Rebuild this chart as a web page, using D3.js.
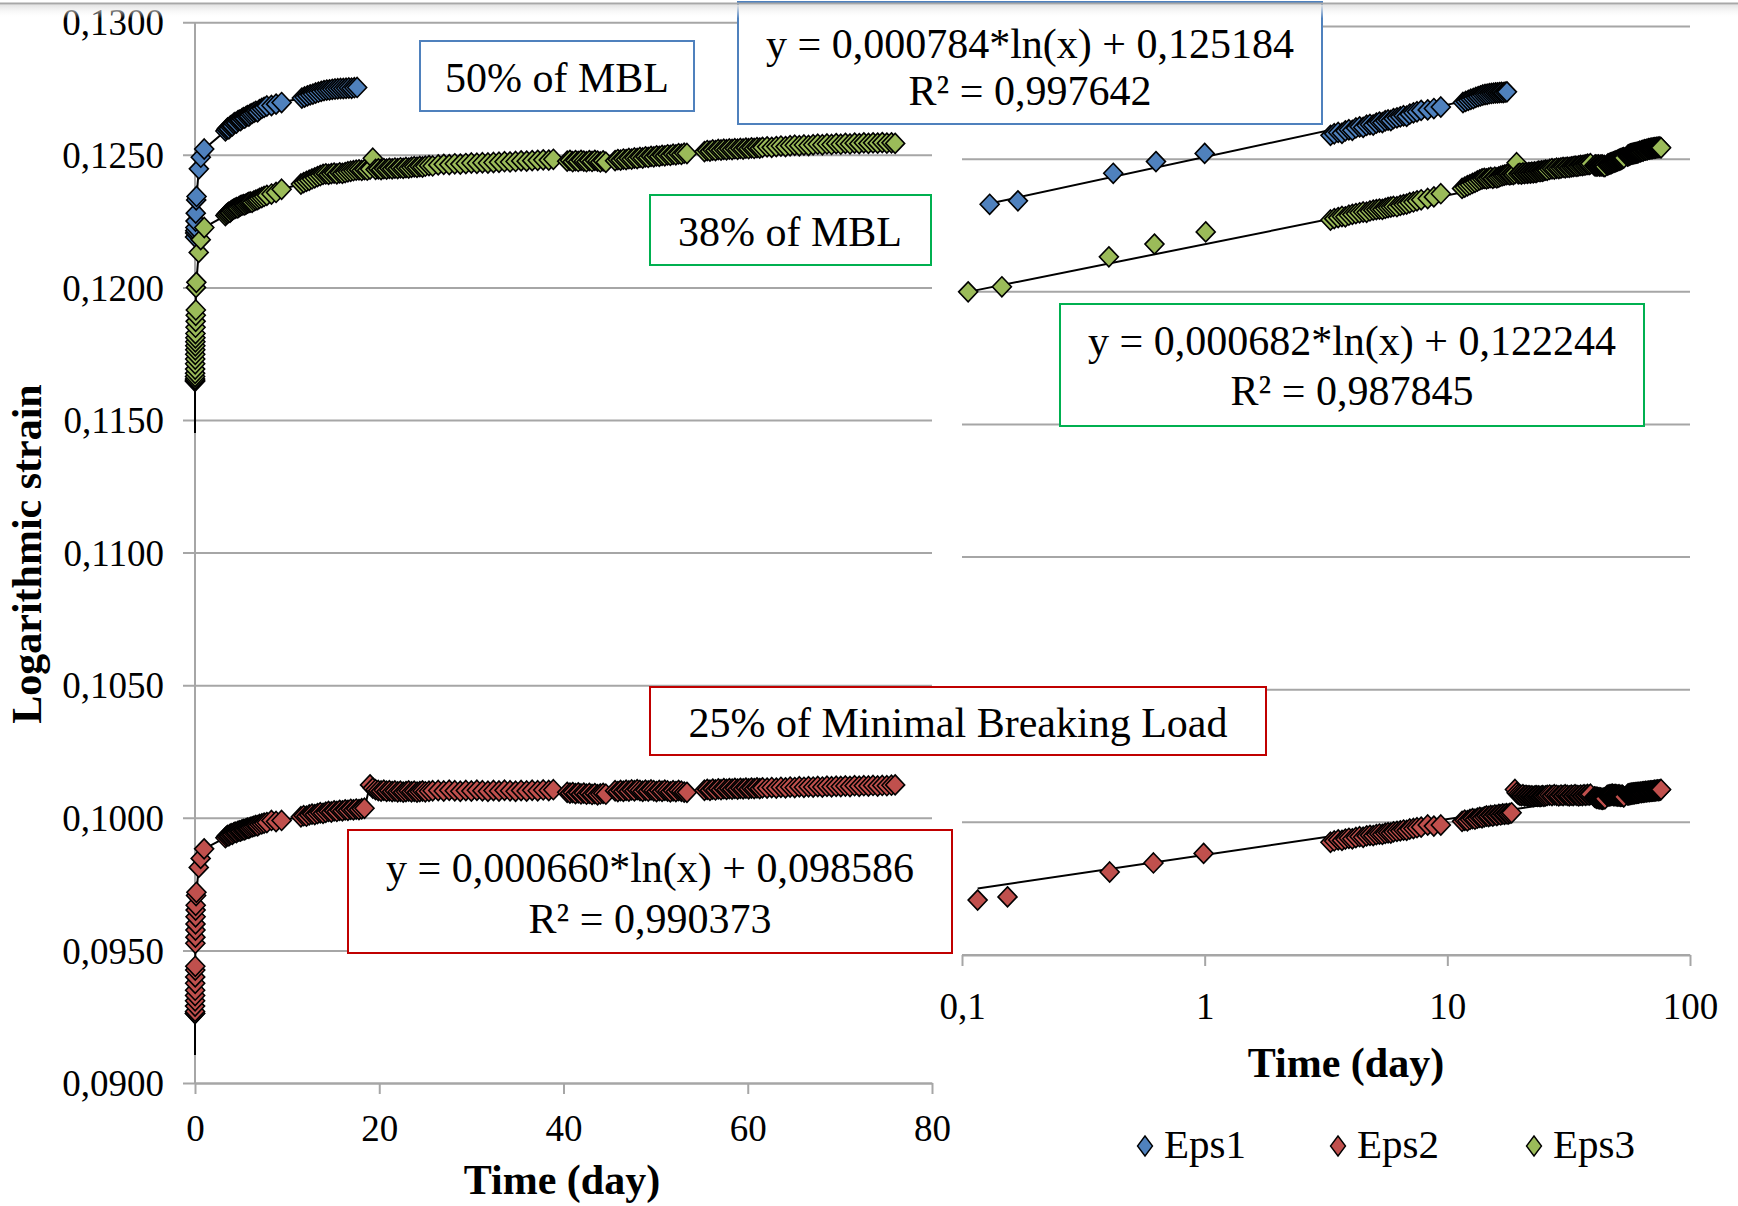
<!DOCTYPE html>
<html><head><meta charset="utf-8">
<script src="https://cdn.jsdelivr.net/npm/d3@7"></script>
<style>
body{margin:0;background:#fff}
svg text{font-family:"Liberation Serif","Times New Roman",serif;fill:#000}
</style>
</head><body>
<svg id="c" width="1738" height="1206"></svg>
<script>
// ---------------- DATA ----------------
const yTickValues = [0.090,0.095,0.100,0.105,0.110,0.115,0.120,0.125,0.130];
const xTicksLinear = [0,20,40,60,80];
const xTicksLog = [0.1,1,10,100];
const seriesNames = ["Eps1","Eps2","Eps3"];
const seriesColors = ["#4f81bd","#c0504d","#9bbb59"];
const boxLabels = ["50% of MBL","38% of MBL","25% of Minimal Breaking Load"];
const eqLabels = [
  ["y = 0,000784*ln(x) + 0,125184","R² = 0,997642"],
  ["y = 0,000682*ln(x) + 0,122244","R² = 0,987845"],
  ["y = 0,000660*ln(x) + 0,098586","R² = 0,990373"]
];
const yTitle = "Logarithmic strain";
const xTitle = "Time (day)";

// Eps1 : 50% of MBL  [time (day), strain]
const eps1 = [
[0.010,0.12190],[0.020,0.12205],[0.030,0.12214],[0.045,0.12226],[0.060,0.12250],[0.080,0.12280],
[0.13,0.12330],[0.17,0.12343],[0.42,0.12447],[0.63,0.12491],[1.00,0.12522],
[3.30,0.12590],[3.42,0.12596],[3.55,0.12601],[3.68,0.12598],[3.80,0.12607],[3.93,0.12611],[4.06,0.12609],[4.20,0.12618],[4.35,0.12622],[4.50,0.12620],[4.65,0.12628],[4.80,0.12631],[4.95,0.12629],[5.10,0.12636],[5.25,0.12640],[5.40,0.12638],[5.55,0.12645],[5.70,0.12648],[5.85,0.12646],[6.00,0.12653],[6.20,0.12656],[6.40,0.12660],[6.60,0.12664],[6.80,0.12662],[7.00,0.12670],[7.25,0.12675],[7.50,0.12679],[7.80,0.12684],[8.30,0.12686],[8.80,0.12691],[9.40,0.12697],
[11.6,0.12714],[11.9,0.12718],[12.2,0.12722],[12.5,0.12726],[12.8,0.12729],[13.1,0.12733],[13.4,0.12736],[13.7,0.12739],[14.0,0.12742],[14.3,0.12744],[14.6,0.12745],[14.9,0.12747],[15.2,0.12748],[15.5,0.12749],[15.8,0.12750],[16.1,0.12750],[16.4,0.12751],[16.7,0.12752],[17.0,0.12751],[17.3,0.12753],[17.6,0.12754]
];

// Eps2 : 25% of MBL
const eps2Start = 0.09106;
const eps2 = [
[0.002,0.09262],[0.004,0.09263],[0.006,0.09270],[0.008,0.09290],[0.010,0.09310],[0.013,0.09330],[0.016,0.09350],[0.020,0.09376],[0.024,0.09400],[0.028,0.09426],[0.032,0.09440],[0.040,0.09527],[0.045,0.09550],[0.050,0.09577],[0.056,0.09600],[0.062,0.09627],[0.068,0.09652],[0.075,0.09670],
[0.116,0.09707],[0.154,0.09719],[0.406,0.09813],[0.615,0.09847],[0.99,0.09883],
[3.30,0.09925],[3.42,0.09930],[3.55,0.09934],[3.68,0.09932],[3.80,0.09937],[3.93,0.09940],[4.06,0.09938],[4.20,0.09943],[4.35,0.09946],[4.50,0.09944],[4.65,0.09949],[4.80,0.09951],[4.95,0.09950],[5.10,0.09954],[5.25,0.09956],[5.40,0.09955],[5.55,0.09959],[5.70,0.09961],[5.85,0.09960],[6.00,0.09964],[6.20,0.09966],[6.40,0.09968],[6.60,0.09971],[6.80,0.09970],[7.00,0.09975],[7.25,0.09977],[7.50,0.09980],[7.80,0.09982],[8.30,0.09990],[8.80,0.09986],[9.40,0.09990],
[11.5,0.10004],[11.8,0.10008],[12.1,0.10006],[12.4,0.10011],[12.7,0.10014],[13.0,0.10012],[13.3,0.10016],[13.6,0.10019],[13.9,0.10017],[14.2,0.10021],[14.5,0.10024],[14.8,0.10022],[15.1,0.10026],[15.4,0.10024],[15.7,0.10028],[16.0,0.10026],[16.3,0.10030],[16.6,0.10028],[16.9,0.10032],[17.2,0.10030],[17.5,0.10033],[17.8,0.10031],[18.1,0.10034],[18.4,0.10036],
[19.0,0.10124],[19.3,0.10112],[19.6,0.10106],[19.9,0.10103],[20.2,0.10101],[20.5,0.10104],[20.8,0.10100],[21.1,0.10102],[21.4,0.10099],[21.7,0.10101],[22.0,0.10098],[22.3,0.10100],[22.6,0.10097],[22.9,0.10099],[23.2,0.10101],[23.5,0.10098],[23.8,0.10100],[24.1,0.10097],[24.4,0.10099],[24.7,0.10101],[25.0,0.10098],[25.4,0.10100],[25.8,0.10102],
[26.4,0.10103],[27.0,0.10101],[27.6,0.10104],[28.2,0.10102],[28.8,0.10100],[29.4,0.10103],[30.0,0.10101],[30.6,0.10104],[31.2,0.10102],[31.8,0.10100],[32.4,0.10103],[33.0,0.10101],[33.6,0.10104],[34.2,0.10102],[34.8,0.10100],[35.4,0.10103],[36.0,0.10101],[36.6,0.10104],[37.2,0.10102],[37.8,0.10105],[38.4,0.10103],[38.9,0.10106],
[40.4,0.10096],[40.7,0.10093],[41.0,0.10095],[41.3,0.10091],[41.6,0.10094],[41.9,0.10090],[42.2,0.10093],[42.5,0.10089],[42.8,0.10092],[43.1,0.10088],[43.4,0.10091],[43.7,0.10087],[44.0,0.10090],[44.3,0.10092],[44.6,0.10089],
[45.6,0.10102],[45.9,0.10099],[46.2,0.10103],[46.5,0.10100],[46.8,0.10104],[47.1,0.10101],[47.4,0.10105],[47.7,0.10102],[48.0,0.10106],[48.3,0.10103],[48.6,0.10100],[48.9,0.10104],[49.2,0.10101],[49.5,0.10105],[49.8,0.10102],[50.1,0.10099],[50.4,0.10103],[50.7,0.10100],[51.0,0.10104],[51.3,0.10101],[51.6,0.10098],[51.9,0.10102],[52.2,0.10099],[52.5,0.10103],[52.8,0.10100],[53.1,0.10097],[53.4,0.10096],
[55.3,0.10104],[55.6,0.10107],[55.9,0.10104],[56.2,0.10108],[56.5,0.10105],[56.8,0.10109],[57.1,0.10106],[57.4,0.10110],[57.7,0.10107],[58.0,0.10110],[58.3,0.10108],[58.6,0.10111],[58.9,0.10108],[59.2,0.10111],[59.5,0.10109],[59.8,0.10112],[60.1,0.10109],[60.4,0.10112],[60.7,0.10110],[61.0,0.10113],[61.3,0.10110],[61.6,0.10113],
[62.1,0.10112],[62.6,0.10114],[63.1,0.10112],[63.6,0.10115],[64.1,0.10113],[64.6,0.10116],[65.1,0.10114],[65.6,0.10117],[66.1,0.10115],[66.6,0.10117],[67.1,0.10116],[67.6,0.10118],[68.1,0.10116],[68.6,0.10119],[69.1,0.10117],[69.6,0.10119],[70.1,0.10118],[70.6,0.10120],[71.1,0.10118],[71.6,0.10121],[72.1,0.10119],[72.6,0.10121],[73.1,0.10120],[73.6,0.10122],[74.1,0.10120],[74.6,0.10122],[75.1,0.10121],[75.6,0.10123],[76.0,0.10124]
];

// Eps3 : 38% of MBL
const eps3Start = 0.11451;
const eps3 = [
[0.002,0.11646],[0.004,0.11650],[0.006,0.11655],[0.008,0.11664],[0.010,0.11676],[0.014,0.11692],[0.018,0.11712],[0.022,0.11730],[0.026,0.11748],[0.030,0.11765],[0.035,0.11780],[0.040,0.11795],[0.045,0.11810],[0.050,0.11826],[0.060,0.11850],[0.070,0.11872],[0.080,0.11895],[0.090,0.11915],
[0.106,0.12000],[0.146,0.12019],[0.403,0.12132],[0.621,0.12180],[1.01,0.12226],
[3.30,0.12271],[3.42,0.12276],[3.55,0.12280],[3.68,0.12284],[3.80,0.12283],[3.93,0.12289],[4.06,0.12292],[4.20,0.12295],[4.35,0.12298],[4.50,0.12301],[4.65,0.12300],[4.80,0.12305],[4.95,0.12308],[5.10,0.12310],[5.25,0.12312],[5.40,0.12311],[5.55,0.12315],[5.70,0.12318],[5.85,0.12320],[6.00,0.12322],[6.20,0.12321],[6.40,0.12326],[6.60,0.12329],[6.80,0.12331],[7.00,0.12336],[7.25,0.12339],[7.50,0.12343],[7.80,0.12347],[8.30,0.12352],[8.80,0.12358],[9.40,0.12370],
[11.5,0.12390],[11.8,0.12395],[12.1,0.12400],[12.4,0.12404],[12.7,0.12409],[13.0,0.12413],[13.3,0.12418],[13.6,0.12422],[13.9,0.12426],[14.2,0.12428],[14.5,0.12426],[14.8,0.12429],[15.1,0.12431],[15.4,0.12428],[15.7,0.12432],[16.0,0.12430],[16.3,0.12433],[16.6,0.12436],[16.9,0.12438],[17.2,0.12440],[17.5,0.12442],
[17.8,0.12443],[18.1,0.12441],[18.4,0.12444],[18.7,0.12442],[19.0,0.12446],[19.3,0.12487],[19.6,0.12445],[19.9,0.12447],[20.2,0.12444],[20.5,0.12448],[20.8,0.12446],[21.1,0.12449],[21.4,0.12447],[21.7,0.12450],[22.0,0.12448],[22.3,0.12451],[22.6,0.12449],[22.9,0.12452],[23.2,0.12450],[23.5,0.12453],[23.8,0.12455],[24.1,0.12453],[24.4,0.12456],[24.7,0.12454],[25.0,0.12457],[25.4,0.12459],[25.8,0.12458],
[26.4,0.12462],[27.0,0.12464],[27.6,0.12463],[28.2,0.12466],[28.8,0.12465],[29.4,0.12467],[30.0,0.12469],[30.6,0.12468],[31.2,0.12470],[31.8,0.12469],[32.4,0.12471],[33.0,0.12472],[33.6,0.12474],[34.2,0.12473],[34.8,0.12475],[35.4,0.12477],[36.0,0.12476],[36.6,0.12478],[37.2,0.12479],[37.8,0.12481],[38.4,0.12480],[38.9,0.12483],
[40.4,0.12476],[40.7,0.12479],[41.0,0.12474],[41.3,0.12478],[41.6,0.12475],[41.9,0.12479],[42.2,0.12476],[42.5,0.12474],[42.8,0.12478],[43.1,0.12475],[43.4,0.12479],[43.7,0.12476],[44.0,0.12473],[44.3,0.12477],[44.6,0.12472],
[45.6,0.12478],[45.9,0.12482],[46.2,0.12480],[46.5,0.12484],[46.8,0.12482],[47.1,0.12486],[47.4,0.12484],[47.7,0.12488],[48.0,0.12486],[48.3,0.12490],[48.6,0.12488],[48.9,0.12492],[49.2,0.12490],[49.5,0.12494],[49.8,0.12492],[50.1,0.12496],[50.4,0.12494],[50.7,0.12498],[51.0,0.12496],[51.3,0.12500],[51.6,0.12498],[51.9,0.12502],[52.2,0.12500],[52.5,0.12504],[52.8,0.12502],[53.1,0.12506],[53.4,0.12505],
[55.3,0.12512],[55.6,0.12516],[55.9,0.12514],[56.2,0.12518],[56.5,0.12516],[56.8,0.12520],[57.1,0.12518],[57.4,0.12521],[57.7,0.12519],[58.0,0.12522],[58.3,0.12520],[58.6,0.12523],[58.9,0.12521],[59.2,0.12524],[59.5,0.12522],[59.8,0.12525],[60.1,0.12523],[60.4,0.12526],[60.7,0.12524],[61.0,0.12527],[61.3,0.12525],[61.6,0.12528],
[62.1,0.12530],[62.6,0.12528],[63.1,0.12531],[63.6,0.12533],[64.1,0.12531],[64.6,0.12534],[65.1,0.12536],[65.6,0.12534],[66.1,0.12537],[66.6,0.12535],[67.1,0.12538],[67.6,0.12540],[68.1,0.12538],[68.6,0.12541],[69.1,0.12539],[69.6,0.12542],[70.1,0.12540],[70.6,0.12543],[71.1,0.12541],[71.6,0.12544],[72.1,0.12542],[72.6,0.12545],[73.1,0.12543],[73.6,0.12545],[74.1,0.12544],[74.6,0.12546],[75.1,0.12544],[75.6,0.12545],[76.0,0.12543]
];

// trend lines of the log panel, as drawn (start / end)
const trend1 = [[0.13,0.12333],[17.6,0.12754]];
const trend2 = [[0.116,0.09751],[76.0,0.10131]];
const trend3 = [[0.106,0.12000],[76.0,0.12526]];

// ---------------- LAYOUT ----------------
const svg = d3.select("#c");
const GRID = "#a6a6a6";
const FONT = '"Liberation Serif","Times New Roman",serif';
const xL = d3.scaleLinear().domain([0,80]).range([195,932]);
const yL = d3.scaleLinear().domain([0.09,0.13]).range([1083,22.2]);
const xR = d3.scaleLog().domain([0.1,100]).range([962,1690]);
const yR = d3.scaleLinear().domain([0.095,0.13]).range([955,26.6]);
const fmtY = v => d3.format(".4f")(v).replace(".",",");
const fmtLog = v => String(v).replace(".",",");
const diamond = (rx,ry) => `M0,${-ry}L${rx},0L0,${ry}L${-rx},0Z`;
const MRX = 9.5, MRY = 10, MSW = 1.6;

const series = [
  {name:seriesNames[0], color:seriesColors[0], data:eps1, start:null, trend:trend1},
  {name:seriesNames[1], color:seriesColors[1], data:eps2, start:eps2Start, trend:trend2},
  {name:seriesNames[2], color:seriesColors[2], data:eps3, start:eps3Start, trend:trend3}
];

// left y axis + gridlines
const gy = svg.append("g").attr("transform","translate(932,0)")
  .call(d3.axisLeft(yL).tickValues(yTickValues).tickSize(932-183).tickPadding(19).tickFormat(fmtY));
gy.select(".domain").remove();
gy.selectAll(".tick line").attr("stroke",GRID).attr("stroke-width",2);
gy.selectAll(".tick text").attr("font-size",37).attr("dy","0.345em").style("font-family",FONT);
svg.append("line").attr("x1",xL(0)).attr("x2",xL(0)).attr("y1",yL(0.13)).attr("y2",yL(0.09))
  .attr("stroke",GRID).attr("stroke-width",2);

// left x axis
const gx = svg.append("g").attr("transform",`translate(0,${yL(0.09)})`)
  .call(d3.axisBottom(xL).tickValues(xTicksLinear).tickSize(11).tickSizeOuter(0));
gx.select(".domain").attr("stroke",GRID).attr("stroke-width",2);
gx.selectAll(".tick line").attr("stroke",GRID).attr("stroke-width",2);
gx.selectAll(".tick text").attr("font-size",37).attr("y",58).attr("dy",0).style("font-family",FONT);

// right gridlines
const yTicksR = yTickValues.filter(v => v >= 0.095 - 1e-9);
svg.append("g").selectAll("line").data(yTicksR).join("line")
  .attr("x1",xR(0.1)).attr("x2",xR(100)).attr("y1",d=>yR(d)).attr("y2",d=>yR(d))
  .attr("stroke",GRID).attr("stroke-width",2);
// right x axis
const gxr = svg.append("g").attr("transform",`translate(0,${yR(0.095)})`)
  .call(d3.axisBottom(xR).tickValues(xTicksLog).tickSize(11).tickSizeOuter(0).tickFormat(fmtLog));
gxr.select(".domain").attr("stroke",GRID).attr("stroke-width",2);
gxr.selectAll(".tick line").attr("stroke",GRID).attr("stroke-width",2);
gxr.selectAll(".tick text").attr("font-size",37).attr("y",64).attr("dy",0).style("font-family",FONT);

// left panel: lines + markers
const lineL = d3.line().x(d=>xL(d[0])).y(d=>yL(d[1]));
const gLeft = svg.append("g");
series.forEach(s => {
  const pts = s.start != null ? [[0, s.start]].concat(s.data) : s.data;
  gLeft.append("path").attr("d", lineL(pts)).attr("fill","none")
    .attr("stroke","#000").attr("stroke-width",2).attr("stroke-linejoin","round");
  gLeft.append("g").selectAll("path").data(s.data).join("path")
    .attr("transform", d=>`translate(${xL(d[0])},${yL(d[1])})`)
    .attr("d", diamond(MRX,MRY)).attr("fill", s.color)
    .attr("stroke","#000").attr("stroke-width",MSW);
});

// right panel: trend lines + markers
const lineR = d3.line().x(d=>xR(d[0])).y(d=>yR(d[1]));
const gRight = svg.append("g");
series.forEach(s => {
  gRight.append("path").attr("d", lineR(s.trend)).attr("fill","none")
    .attr("stroke","#000").attr("stroke-width",2);
});
series.forEach(s => {
  gRight.append("g").selectAll("path").data(s.data.filter(d => d[0] >= 0.1)).join("path")
    .attr("transform", d=>`translate(${xR(d[0])},${yR(d[1])})`)
    .attr("d", diamond(MRX,MRY)).attr("fill", s.color)
    .attr("stroke","#000").attr("stroke-width",MSW);
});

// annotation boxes
const boxColors = ["#4f81bd","#00b050","#c00000"];
const labelBoxes = [
  {x:420, y:41,  w:274, h:70, cx:557,  base:[92]},
  {x:650, y:195, w:281, h:70, cx:790,  base:[246]},
  {x:650, y:687, w:616, h:68, cx:958,  base:[737]}
];
const eqBoxes = [
  {x:738,  y:2,   w:584, h:122, cx:1030, base:[57.5,105]},
  {x:1060, y:304, w:584, h:122, cx:1352, base:[355,405]},
  {x:348,  y:830, w:604, h:123, cx:650,  base:[882,933]}
];
const gBox = svg.append("g");
function drawBox(b, color, lines){
  gBox.append("rect").attr("x",b.x).attr("y",b.y).attr("width",b.w).attr("height",b.h)
    .attr("fill","#fff").attr("stroke",color).attr("stroke-width",2);
  lines.forEach((t,i) => {
    gBox.append("text").attr("x",b.cx).attr("y",b.base[i]).attr("text-anchor","middle")
      .attr("font-size",42).text(t);
  });
}
labelBoxes.forEach((b,i) => drawBox(b, boxColors[i], [boxLabels[i]]));
eqBoxes.forEach((b,i) => drawBox(b, boxColors[i], eqLabels[i]));

// axis titles
svg.append("text").attr("transform","translate(41,554) rotate(-90)").attr("text-anchor","middle")
  .attr("font-size",42).attr("font-weight","bold").text(yTitle);
svg.append("text").attr("x",562).attr("y",1194).attr("text-anchor","middle")
  .attr("font-size",42).attr("font-weight","bold").text(xTitle);
svg.append("text").attr("x",1346).attr("y",1077).attr("text-anchor","middle")
  .attr("font-size",42).attr("font-weight","bold").text(xTitle);

// legend
const legX = [1145,1338,1534];
const gLeg = svg.append("g");
series.forEach((s,i) => {
  gLeg.append("path").attr("transform",`translate(${legX[i]},1146)`).attr("d",diamond(7.5,10))
    .attr("fill",s.color).attr("stroke","#000").attr("stroke-width",1.4);
  gLeg.append("text").attr("x",legX[i]+19).attr("y",1158).attr("font-size",41).text(s.name);
});

// window top border
const defs = svg.append("defs");
const lg = defs.append("linearGradient").attr("id","topg").attr("x1",0).attr("x2",0).attr("y1",0).attr("y2",1);
lg.append("stop").attr("offset","0%").attr("stop-color","#e2e2e2");
lg.append("stop").attr("offset","100%").attr("stop-color","#ffffff").attr("stop-opacity",0);
svg.append("rect").attr("x",0).attr("y",4.5).attr("width",1738).attr("height",14).attr("fill","url(#topg)");
svg.append("line").attr("x1",0).attr("x2",1738).attr("y1",3.5).attr("y2",3.5).attr("stroke","#a8a8a8").attr("stroke-width",2);
</script>
</body></html>
